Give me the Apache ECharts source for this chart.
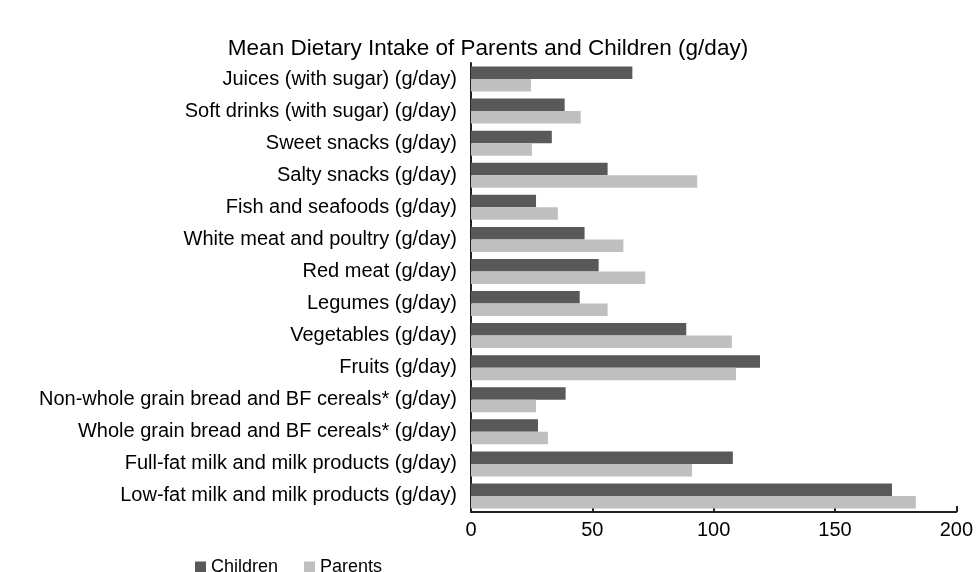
<!DOCTYPE html>
<html><head><meta charset="utf-8">
<script src="https://cdn.jsdelivr.net/npm/echarts@6/dist/echarts.min.js"></script>
<style>html,body{margin:0;padding:0;background:#fff}#c{width:976px;height:572px}</style>
</head><body><div id="c"></div>
<script>
const categories = [
  "Juices (with sugar) (g/day)",
  "Soft drinks (with sugar) (g/day)",
  "Sweet snacks (g/day)",
  "Salty snacks (g/day)",
  "Fish and seafoods (g/day)",
  "White meat and poultry (g/day)",
  "Red meat (g/day)",
  "Legumes (g/day)",
  "Vegetables (g/day)",
  "Fruits (g/day)",
  "Non-whole grain bread and BF cereals* (g/day)",
  "Whole grain bread and BF cereals* (g/day)",
  "Full-fat milk and milk products (g/day)",
  "Low-fat milk and milk products (g/day)"
];
const children = [66.5, 38.6, 33.3, 56.3, 26.8, 46.8, 52.6, 44.8, 88.7, 119.1, 39.0, 27.6, 107.9, 173.5];
const parents  = [24.7, 45.2, 25.1, 93.2, 35.8, 62.8, 71.8, 56.3, 107.5, 109.2, 26.8, 31.7, 91.1, 183.3];
const xTicks = [0, 50, 100, 150, 200];

const font = "Liberation Sans, Arial, sans-serif";
const chart = echarts.init(document.getElementById('c'), null, {renderer: 'canvas'});
chart.setOption({
  animation: false,
  title: {
    text: "Mean Dietary Intake of Parents and Children (g/day)",
    left: 'center', top: 32,
    textStyle: {fontFamily: font, fontSize: 22.5, fontWeight: 'normal', color: '#000'}
  },
  legend: {
    left: 190, top: 553, itemWidth: 11, itemHeight: 11, itemGap: 26,
    icon: 'rect',
    textStyle: {fontFamily: font, fontSize: 18, color: '#000'},
    data: ['Children', 'Parents']
  },
  grid: {left: 471, right: 17, top: 63, height: 449, containLabel: false},
  xAxis: {
    type: 'value', min: xTicks[0], max: xTicks[xTicks.length - 1], interval: 50,
    splitLine: {show: false},
    axisLine: {show: true, lineStyle: {color: '#222', width: 2}},
    axisTick: {show: true, inside: true, length: 6, lineStyle: {color: '#222', width: 2}},
    axisLabel: {fontFamily: font, fontSize: 20, color: '#000', margin: 8}
  },
  yAxis: {
    type: 'category', data: categories, inverse: true,
    axisLine: {show: true, lineStyle: {color: '#222', width: 2}},
    axisTick: {show: false},
    axisLabel: {fontFamily: font, fontSize: 20, color: '#000', margin: 14}
  },
  series: [
    {name: 'Children', type: 'bar', data: children, itemStyle: {color: '#595959'},
     barGap: '0%', barCategoryGap: '22%'},
    {name: 'Parents', type: 'bar', data: parents, itemStyle: {color: '#bfbfbf'},
     barGap: '0%', barCategoryGap: '22%'}
  ]
});
</script></body></html>
